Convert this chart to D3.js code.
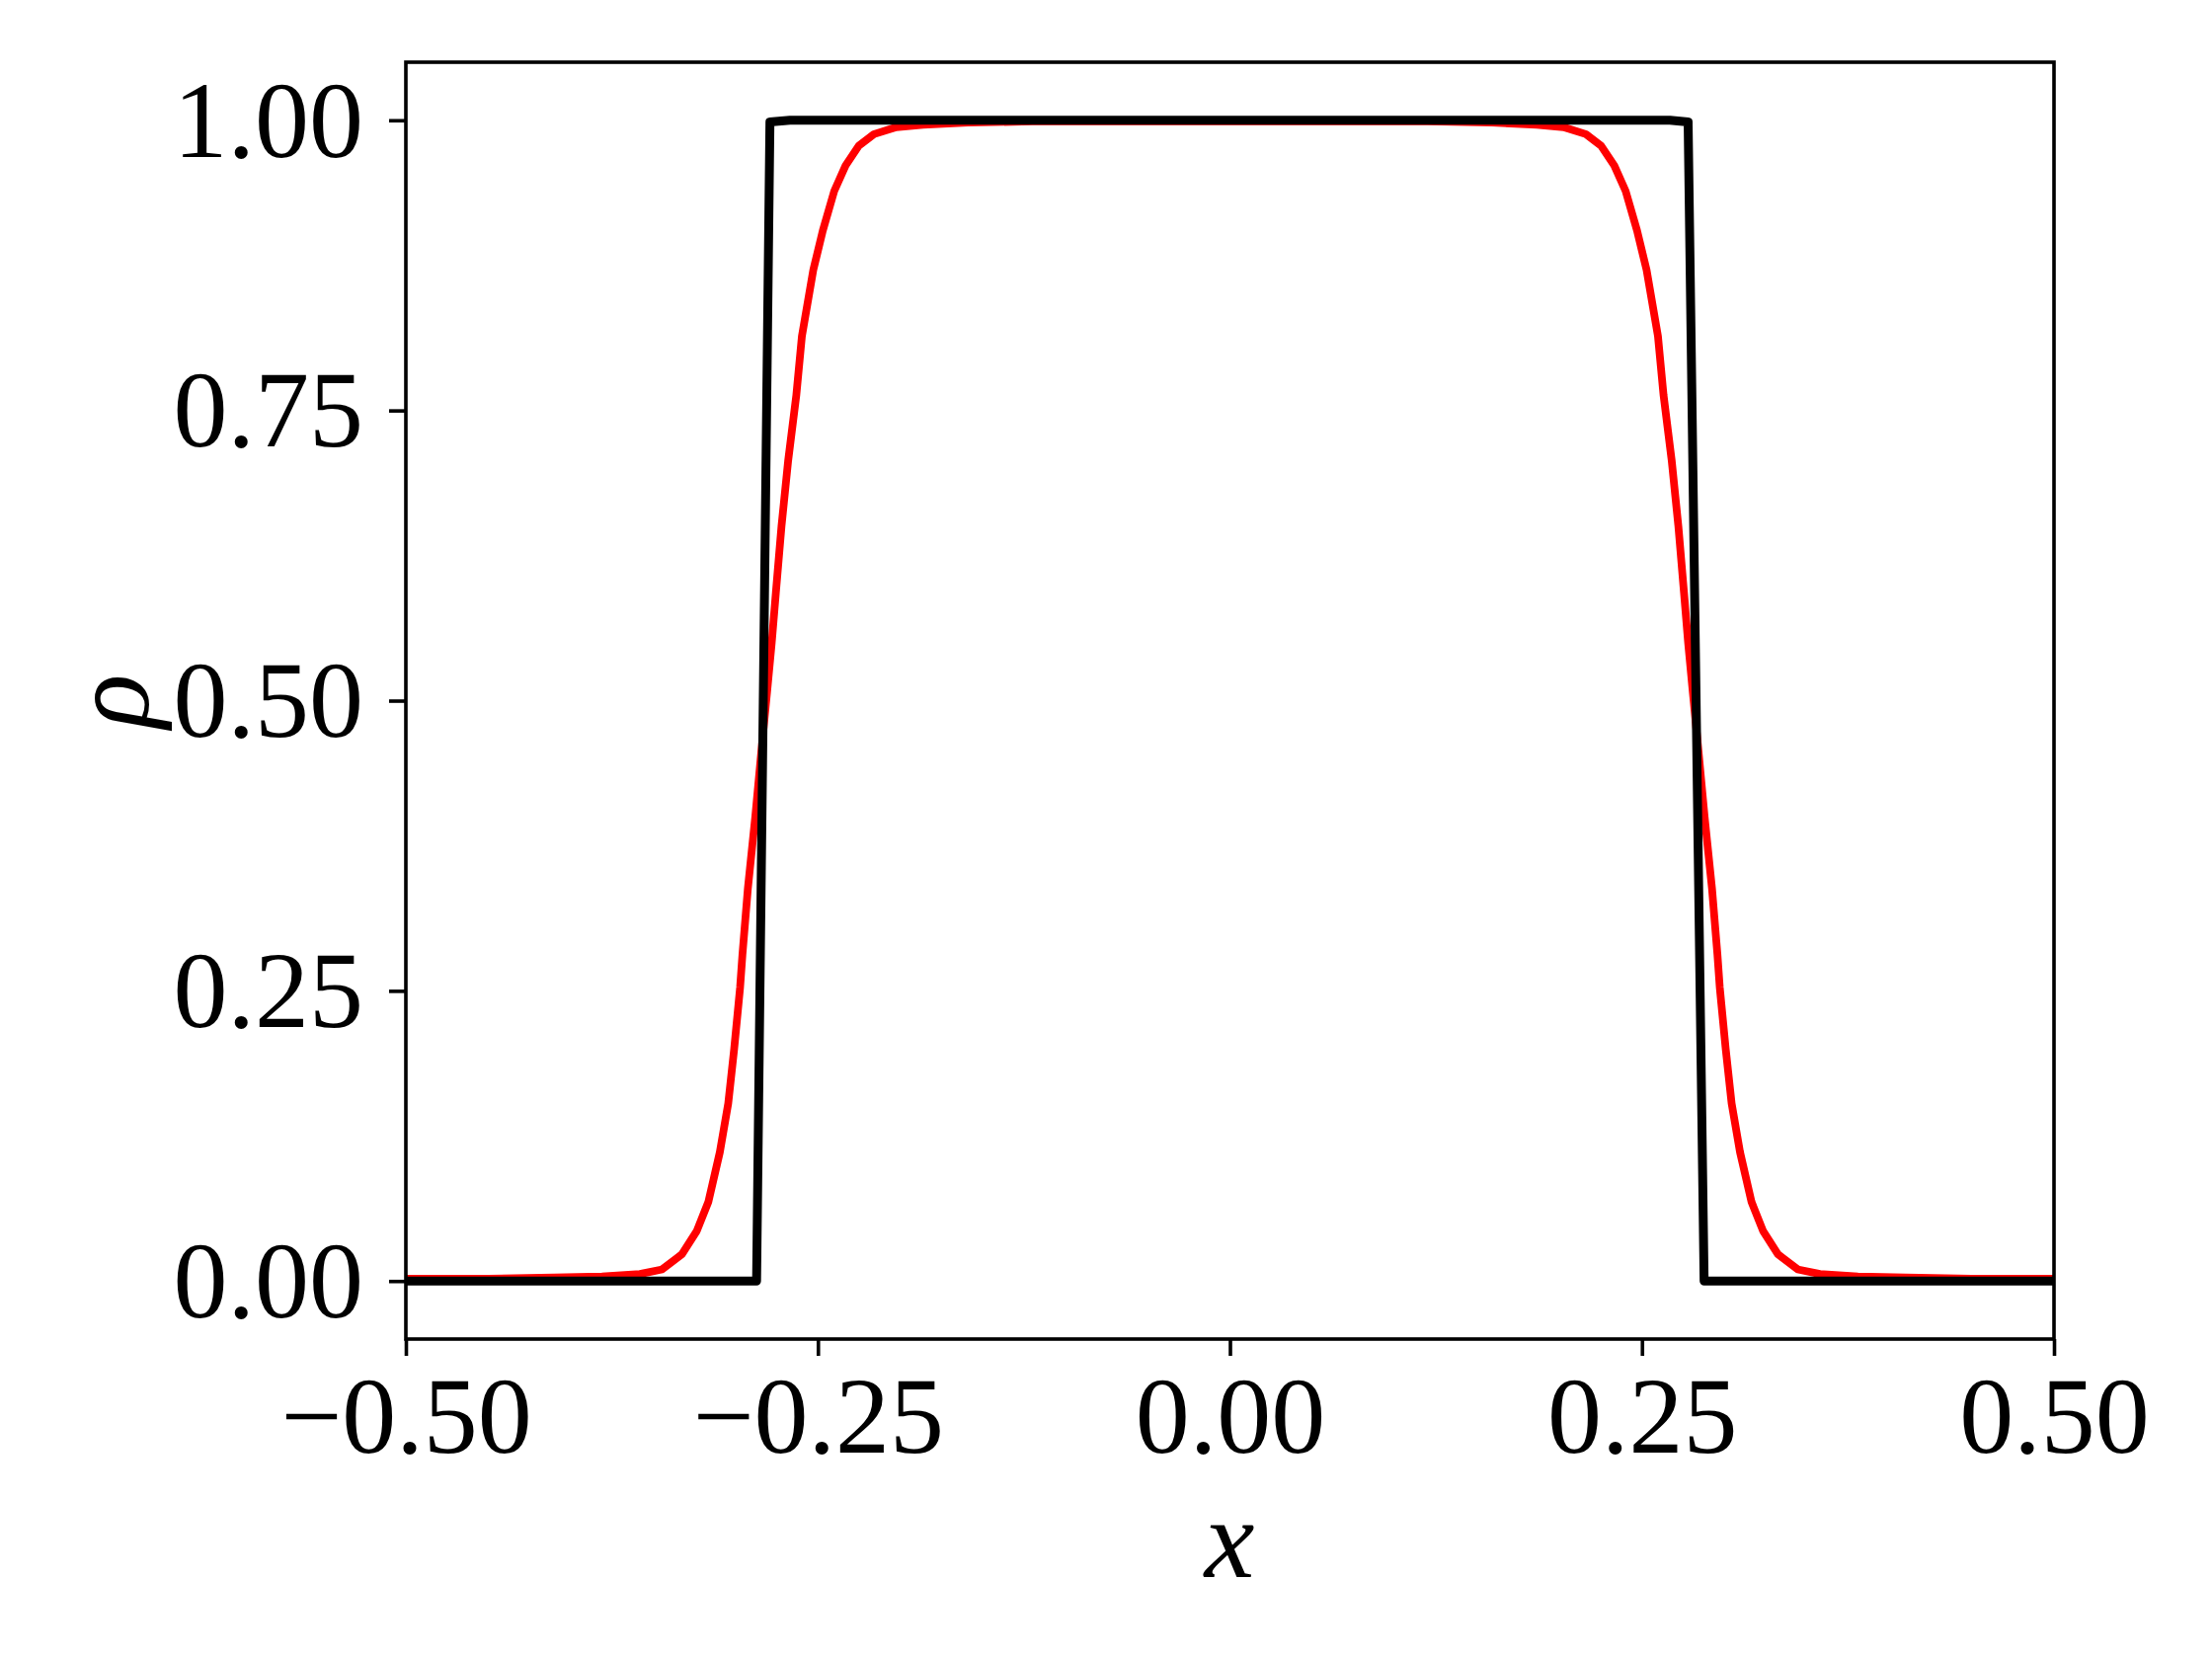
<!DOCTYPE html>
<html>
<head>
<meta charset="utf-8">
<script src="https://cdn.jsdelivr.net/npm/d3@7"></script>
<style>
  html, body { margin: 0; padding: 0; background: #fff; }
  svg { display: block; }
</style>
</head>
<body>
<svg id="chart" width="2240" height="1680"></svg>
<script>
// ---- data ----
const xTicks = [-0.5, -0.25, 0, 0.25, 0.5];
const yTicks = [0, 0.25, 0.5, 0.75, 1.0];

// exact (black) solution
const xExact   = [-0.5, -0.2872, -0.2791, -0.2670, 0.2670, 0.2780, 0.2877, 0.5];
const rhoExact = [0,     0,       0.9986,  1.0,     1.0,    0.9986, 0,      0];

// numerical (red) solution
const xRed = [
  -0.500, -0.450, -0.410, -0.381, -0.358, -0.3445, -0.3325, -0.3235, -0.3165, -0.3095,
  -0.3044, -0.3008, -0.2972, -0.2958, -0.2925, -0.2880, -0.2834, -0.2808, -0.2780, -0.2755,
  -0.2721, -0.2681, -0.2631, -0.2597, -0.2528, -0.2470, -0.2401, -0.2332, -0.2252, -0.2160,
  -0.2024, -0.1862, -0.1590, -0.1200, 0.000,
  0.1200, 0.1590, 0.1862, 0.2024, 0.2160, 0.2252, 0.2332, 0.2401, 0.2470, 0.2528,
  0.2597, 0.2631, 0.2681, 0.2721, 0.2755, 0.2780, 0.2808, 0.2834, 0.2880, 0.2925,
  0.2958, 0.2972, 0.3008, 0.3044, 0.3095, 0.3165, 0.3235, 0.3325, 0.3445, 0.358,
  0.381, 0.410, 0.450, 0.500
];
const rhoRed = [
  0.002, 0.002, 0.003, 0.004, 0.006, 0.010, 0.023, 0.043, 0.068, 0.111,
  0.153, 0.200, 0.253, 0.281, 0.338, 0.400, 0.470, 0.508, 0.550, 0.593,
  0.650, 0.706, 0.763, 0.814, 0.871, 0.905, 0.939, 0.961, 0.978, 0.988,
  0.994, 0.996, 0.998, 0.999, 0.999,
  0.999, 0.998, 0.996, 0.994, 0.988, 0.978, 0.961, 0.939, 0.905, 0.871,
  0.814, 0.763, 0.706, 0.650, 0.593, 0.550, 0.508, 0.470, 0.400, 0.338,
  0.281, 0.253, 0.200, 0.153, 0.111, 0.068, 0.043, 0.023, 0.010, 0.006,
  0.004, 0.003, 0.002, 0.002
];

(function () {
  // ---- layout ----
  const W = 2240, H = 1680;
  const padL = 411, padR = 2080, padT = 63, padB = 1356;
  const fontSize = 110;
  const labelSize = 114;
  const fontFamily = '"Liberation Serif", "DejaVu Serif", serif';

  const svg = d3.select("#chart");
  svg.append("rect").attr("width", W).attr("height", H).attr("fill", "#fff");

  const x = d3.scaleLinear().domain([-0.5, 0.5]).range([padL, padR]);
  const y = d3.scaleLinear().domain([-0.05, 1.05]).range([padB, padT]);

  svg.append("defs").append("clipPath").attr("id", "plotclip")
    .append("rect").attr("x", padL).attr("y", padT)
    .attr("width", padR - padL).attr("height", padB - padT);

  const line = d3.line().x(d => x(d[0])).y(d => y(d[1]));

  const redData = xRed.map((v, i) => [v, rhoRed[i]]);
  const blackData = xExact.map((v, i) => [v, rhoExact[i]]);

  const g = svg.append("g").attr("clip-path", "url(#plotclip)");
  g.append("path").datum(redData)
    .attr("d", line).attr("fill", "none")
    .attr("stroke", "#ff0000").attr("stroke-width", 7.8)
    .attr("stroke-linejoin", "round");
  g.append("path").datum(blackData)
    .attr("d", line).attr("fill", "none")
    .attr("stroke", "#000").attr("stroke-width", 9)
    .attr("stroke-linejoin", "round");

  // ---- axes ----
  const fmt = d3.format(".2f");
  const spineW = 3.6;

  const xAxis = svg.append("g").attr("transform", `translate(0,${padB})`)
    .call(d3.axisBottom(x).tickValues(xTicks).tickFormat(fmt).tickSize(17).tickSizeOuter(0).tickPadding(0));
  const yAxis = svg.append("g").attr("transform", `translate(${padL},0)`)
    .call(d3.axisLeft(y).tickValues(yTicks).tickFormat(fmt).tickSize(17).tickSizeOuter(0).tickPadding(0));

  [xAxis, yAxis].forEach(a => {
    a.select(".domain").remove();
    a.selectAll(".tick line").attr("stroke", "#000").attr("stroke-width", spineW);
    a.selectAll(".tick text")
      .attr("fill", "#000")
      .style("font-family", fontFamily)
      .style("font-size", fontSize + "px");
  });

  xAxis.selectAll(".tick text")
    .attr("y", 1471 - padB).attr("dy", null)
    .attr("text-anchor", "middle");

  yAxis.selectAll(".tick text")
    .attr("x", 368 - padL).attr("dy", null)
    .attr("y", fontSize * 0.33)
    .attr("text-anchor", "end");

  // spines (box)
  svg.append("rect")
    .attr("x", padL).attr("y", padT)
    .attr("width", padR - padL).attr("height", padB - padT)
    .attr("fill", "none").attr("stroke", "#000").attr("stroke-width", spineW);

  // axis labels
  svg.append("text")
    .attr("x", 1245).attr("y", 1597)
    .attr("text-anchor", "middle")
    .style("font-family", fontFamily).style("font-style", "italic")
    .style("font-size", labelSize + "px")
    .text("x");

  svg.append("text")
    .attr("transform", `translate(150,710) rotate(-90)`)
    .attr("text-anchor", "middle")
    .style("font-family", fontFamily).style("font-style", "italic")
    .style("font-size", labelSize + "px")
    .text("ρ");
})();
</script>
</body>
</html>
